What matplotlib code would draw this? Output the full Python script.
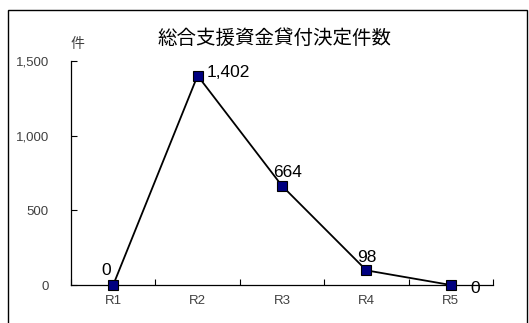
import matplotlib
matplotlib.use("Agg")
import matplotlib.pyplot as plt
from matplotlib.patches import Rectangle

plt.rcParams['font.family'] = ['Liberation Sans', 'Noto Sans CJK JP']

years = ['R1', 'R2', 'R3', 'R4', 'R5']
counts = [0, 1402, 664, 98, 0]
yticks = [0, 500, 1000, 1500]
title = '総合支援資金貸付決定件数'
unit = '件'

fig = plt.figure(figsize=(5.29, 3.23), dpi=100)
ax = fig.add_axes([71 / 529, 1 - 285 / 323, 422 / 529, 224 / 323])

x = list(range(len(years)))
ax.plot(x, counts, color='black', lw=1.3, marker='s', ms=7.5,
        mfc='#000080', mec='black', mew=0.8, zorder=3, clip_on=False)

# value labels, placed around each marker (offsets in points, baseline anchored)
offsets = [(-5, 7, 'center'), (6.5, -1, 'left'), (4, 6.5, 'center'),
           (0, 6, 'center'), (14, -6, 'left')]
for xi, v, (dx, dy, ha) in zip(x, counts, offsets):
    ax.annotate(f'{v:,}', (xi, v), xytext=(dx, dy), textcoords='offset points',
                ha=ha, va='baseline', fontsize=12.5, color='black')

ax.set_xlim(-0.5, len(years) - 0.5)
ax.set_ylim(0, 1500)
ax.set_yticks(yticks)
ax.set_yticklabels([f'{t:,}' for t in yticks])
ax.set_xticks([i - 0.5 for i in range(len(years) + 1)])
ax.set_xticklabels([])
ax.set_xticks(x, minor=True)
ax.set_xticklabels(years, minor=True)
ax.tick_params(axis='x', which='major', direction='in', length=4, width=0.8)
ax.tick_params(axis='x', which='minor', length=0, pad=7, labelsize=9.5, labelcolor='#404040')
ax.tick_params(axis='y', direction='in', length=4, width=0.8, pad=16,
               labelsize=9.5, labelcolor='#404040')
for s in ['top', 'right']:
    ax.spines[s].set_visible(False)
for s in ['left', 'bottom']:
    ax.spines[s].set_linewidth(0.9)

fig.text(274 / 529, 1 - 38 / 323, title, ha='center', va='center', fontsize=14,
         family=['Noto Sans CJK JP'])
fig.text(77 / 529, 1 - 44 / 323, unit, ha='center', va='center', fontsize=10,
         color='#404040', family=['Noto Sans CJK JP'])

# chart border
fig.patches.append(Rectangle((8 / 529, -0.05), 519 / 529, 1.05 - 10 / 323,
                             transform=fig.transFigure, fill=False,
                             edgecolor='black', lw=1.0))

fig.savefig('out.png', dpi=100)
